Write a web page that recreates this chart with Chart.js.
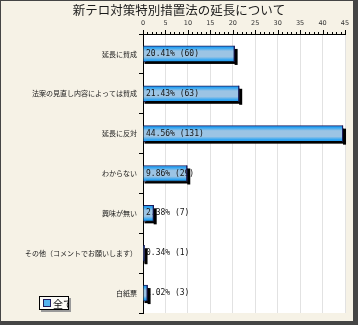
<!DOCTYPE html>
<html>
<head>
<meta charset="utf-8">
<script src="https://cdn.jsdelivr.net/npm/chart.js@4.4.1/dist/chart.umd.min.js"></script>
<style>
html, body { margin: 0; padding: 0; background: #fff; }
#wrap { width: 358px; height: 325px; }
</style>
</head>
<body>
<div id="wrap"><canvas id="chart" width="358" height="325"></canvas></div>
<script>
"use strict";

/* ---- data ---- */
const chartTitle = '新テロ対策特別措置法の延長について';
const seriesName = '全て';
const categories = [
    '延長に賛成',
    '法案の見直し内容によっては賛成',
    '延長に反対',
    'わからない',
    '興味が無い',
    'その他（コメントでお願いします）',
    '白紙票'
];
const percents = [20.41, 21.43, 44.56, 9.86, 2.38, 0.34, 1.02];
const counts = [60, 63, 131, 29, 7, 1, 3];
const xTickValues = [0, 5, 10, 15, 20, 25, 30, 35, 40, 45];

/* ---- colours ---- */
const frameColor = '#454545';
const paperColor = '#f6f2e6';
const barEdge = '#1c1c5c';

/* bar fill: bright blue edges, pale steel blue middle */
function barFill(ctx) {
    const chart = ctx.chart;
    const yScale = chart.scales.y;
    if (ctx.type !== 'data' || !chart.chartArea || !yScale) return '#9fc6e6';
    const c = yScale.getPixelForValue(ctx.dataIndex);
    if (!isFinite(c)) return '#9fc6e6';
    const g = chart.ctx.createLinearGradient(0, c - 8, 0, c + 8);
    g.addColorStop(0, '#1b98f2');
    g.addColorStop(0.12, '#2ea4f2');
    g.addColorStop(0.32, '#9cc4e4');
    g.addColorStop(0.68, '#9cc4e4');
    g.addColorStop(0.88, '#2ea4f2');
    g.addColorStop(1, '#1b98f2');
    return g;
}

/* paper, frame, title and white plot area */
const paper = {
    id: 'paper',
    beforeDraw(chart) {
        const c = chart.ctx, a = chart.chartArea;
        c.save();
        c.fillStyle = frameColor;
        c.fillRect(0, 0, chart.width, chart.height);
        c.fillStyle = paperColor;
        c.fillRect(1, 1, chart.width - 6, chart.height - 5);
        c.fillStyle = '#fff';
        c.fillRect(a.left, a.top, a.right - a.left, a.bottom - a.top);
        c.fillStyle = '#1a1a1a';
        c.font = '12.5px "Noto Sans CJK JP"';
        c.textAlign = 'center';
        c.textBaseline = 'middle';
        c.fillText(chartTitle, 179, 10.5);
        c.restore();
    }
};

/* hard black drop shadow under the bars */
const barShadow = {
    id: 'barShadow',
    beforeDatasetDraw(chart) {
        const c = chart.ctx;
        c.save();
        c.shadowColor = '#000';
        c.shadowOffsetX = 3;
        c.shadowOffsetY = 3;
        c.shadowBlur = 0;
    },
    afterDatasetDraw(chart) {
        chart.ctx.restore();
    }
};

/* value labels, then the bar end and shadow are drawn again over them */
const valueLabels = {
    id: 'valueLabels',
    afterDatasetsDraw(chart) {
        const c = chart.ctx, a = chart.chartArea;
        const meta = chart.getDatasetMeta(0);
        c.save();
        c.font = '8px "DejaVu Sans Mono"';
        c.fillStyle = '#141414';
        c.textBaseline = 'middle';
        meta.data.forEach(function(el, i) {
            c.fillText(percents[i].toFixed(2) + '% (' + counts[i] + ')', a.left + 3, el.y);
        });
        meta.data.forEach(function(el) {
            const top = el.y - el.height / 2;
            c.fillStyle = '#000';
            c.fillRect(el.x, top + 3, 3, el.height);
            c.fillRect(el.base + 1, top + el.height, el.x - el.base, 2);
            c.fillStyle = barEdge;
            c.fillRect(el.x - 1, top, 1, el.height);
        });
        c.restore();
    }
};

/* small ruler ticks above the top axis */
const rulerTicks = {
    id: 'rulerTicks',
    afterDraw(chart) {
        const c = chart.ctx, x = chart.scales.x, top = chart.chartArea.top;
        c.save();
        c.strokeStyle = '#000';
        c.lineWidth = 1;
        c.beginPath();
        for (let v = x.min; v <= x.max; v++) {
            const px = Math.round(x.getPixelForValue(v)) + 0.5;
            const len = v % 5 === 0 ? 4 : 2;
            c.moveTo(px, top - len);
            c.lineTo(px, top);
        }
        c.stroke();
        c.restore();
    }
};

/* boxed legend at the lower left */
const boxLegend = {
    id: 'boxLegend',
    afterDraw(chart) {
        const c = chart.ctx;
        const bx = 39, by = 296, bw = 30, bh = 14;
        c.save();
        c.fillStyle = '#9a9a9a';
        c.fillRect(bx + 2, by + 2, bw, bh);
        c.fillStyle = '#fbfaf6';
        c.fillRect(bx, by, bw, bh);
        c.strokeStyle = '#000';
        c.lineWidth = 1;
        c.strokeRect(bx + 0.5, by + 0.5, bw - 1, bh - 1);
        c.fillStyle = '#55b4ee';
        c.fillRect(bx + 4, by + 3, 8, 8);
        c.strokeStyle = barEdge;
        c.strokeRect(bx + 4.5, by + 3.5, 7, 7);
        c.beginPath();
        c.rect(bx, by, bw - 1, bh);
        c.clip();
        c.fillStyle = '#111';
        c.font = '10px "Noto Sans CJK JP"';
        c.textBaseline = 'middle';
        c.fillText(chart.data.datasets[0].label, bx + 14, by + 8);
        c.restore();
    }
};

new Chart(document.getElementById('chart').getContext('2d'), {
    type: 'bar',
    data: {
        labels: categories,
        datasets: [{
            label: seriesName,
            data: percents,
            backgroundColor: barFill,
            borderColor: barEdge,
            borderWidth: 1,
            barThickness: 16
        }]
    },
    options: {
        responsive: false,
        animation: false,
        indexAxis: 'y',
        layout: {
            padding: { left: 0, top: 0, right: 13, bottom: 12 }
        },
        plugins: {
            legend: { display: false },
            tooltip: { enabled: false },
            title: { display: false }
        },
        scales: {
            x: {
                position: 'top',
                min: 0,
                max: 45,
                afterBuildTicks: function(scale) {
                    scale.ticks = xTickValues.map(function(v) { return { value: v }; });
                },
                afterFit: function(scale) { scale.height = 34; },
                grid: {
                    color: '#e2e2e2',
                    drawTicks: false
                },
                border: { color: '#000' },
                ticks: {
                    color: '#333',
                    padding: 7,
                    maxRotation: 0,
                    font: { family: 'DejaVu Sans', size: 6.5 }
                }
            },
            y: {
                afterFit: function(scale) { scale.width = 143; },
                grid: {
                    offset: true,
                    drawOnChartArea: false,
                    tickLength: 4,
                    tickColor: '#000'
                },
                border: { color: '#000' },
                ticks: {
                    color: '#1a1a1a',
                    padding: 2,
                    font: { family: '"Noto Sans CJK JP"', size: 7 }
                }
            }
        }
    },
    plugins: [paper, barShadow, valueLabels, rulerTicks, boxLegend]
});
</script>
</body>
</html>
